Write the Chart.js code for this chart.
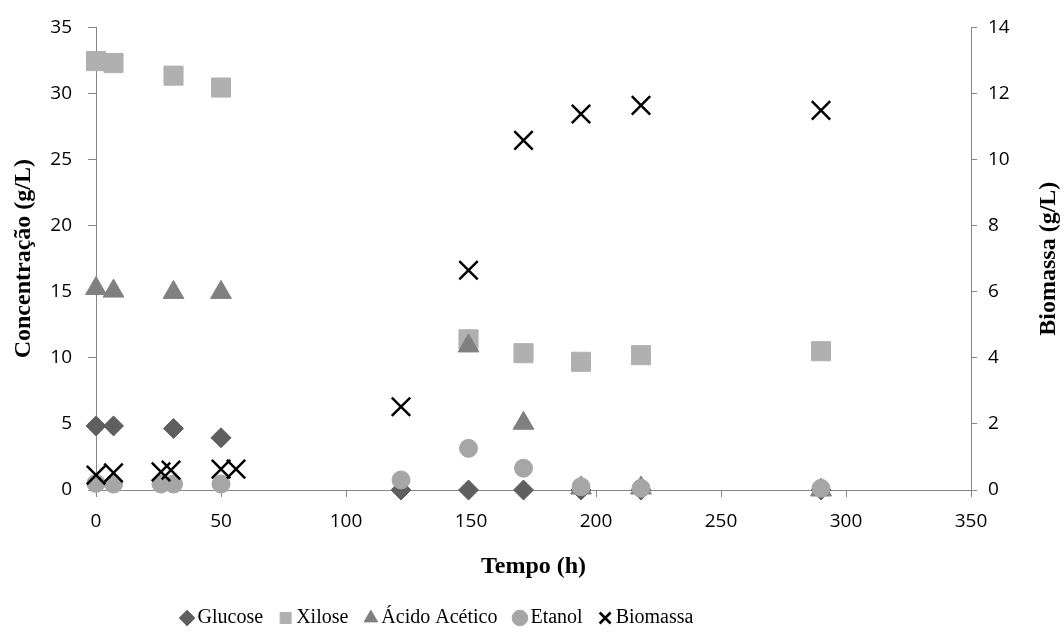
<!DOCTYPE html>
<html lang="pt">
<head>
<meta charset="utf-8">
<title>Concentração e Biomassa</title>
<script src="https://cdn.jsdelivr.net/npm/chart.js@4.4.0/dist/chart.umd.min.js"></script>
<style>
    body { margin: 0; background: #fff; }
    #wrap { width: 1064px; height: 642px; }
</style>
</head>
<body>
<div id="wrap"><canvas id="grafico" width="1064" height="642"></canvas></div>
<script>
// Dados (tempo em horas, concentrações em g/L)
const tempoGlucose = [0, 7, 31, 50, 122, 149, 171, 194, 218, 290];
const glucose = [4.85, 4.85, 4.65, 3.95, 0, 0, 0, 0, 0, 0];

const tempoXilose = [0, 7, 31, 50, 149, 171, 194, 218, 290];
const xilose = [32.45, 32.3, 31.35, 30.45, 11.4, 10.35, 9.7, 10.2, 10.5];

const tempoAcetico = [0, 7, 31, 50, 149, 171, 194, 218, 290];
const acidoAcetico = [15.25, 15.05, 14.95, 14.95, 10.9, 5.05, 0.15, 0.15, 0];

const tempoEtanol = [0, 7, 26, 31, 50, 122, 149, 171, 194, 218, 290];
const etanol = [0.5, 0.45, 0.45, 0.45, 0.45, 0.76, 3.15, 1.65, 0.25, 0.13, 0.13];

const tempoBiomassa = [0, 7, 26, 30, 50, 56, 122, 149, 171, 194, 218, 290];
const biomassa = [0.45, 0.52, 0.55, 0.6, 0.63, 0.63, 2.52, 6.65, 10.58, 11.38, 11.64, 11.49];

// Eixos
const tempoTicks = { min: 0, max: 350, step: 50 };
const concTicks = { min: 0, max: 35, step: 5 };
const bioTicks = { min: 0, max: 14, step: 2 };

function pares(xs, ys) {
    return xs.map((x, i) => ({ x: x, y: ys[i] }));
}

const corEixo = '#868686';
const fonteTick = { family: 'Open Sans', size: 19 };
const fonteTitulo = { family: 'Liberation Serif', size: 24, weight: 'bold' };

// Desloca a legenda para a esquerda, como no original
const moverLegenda = {
    id: 'moverLegenda',
    afterLayout(chart) {
        const lg = chart.legend;
        if (!lg) return;
        lg.left -= 92;
        lg.right -= 92;
    }
};

// Título do eixo direito lido de baixo para cima (o Chart.js gira ao contrário)
const tituloDireito = {
    id: 'tituloDireito',
    afterDraw(chart) {
        const ctx = chart.ctx;
        const area = chart.chartArea;
        ctx.save();
        ctx.translate(1049, (area.top + area.bottom) / 2);
        ctx.rotate(-Math.PI / 2);
        ctx.font = 'bold 24px "Liberation Serif"';
        ctx.fillStyle = '#000';
        ctx.textAlign = 'center';
        ctx.textBaseline = 'middle';
        ctx.fillText('Biomassa (g/L)', 0, 0);
        ctx.restore();
    }
};

new Chart(document.getElementById('grafico').getContext('2d'), {
    type: 'scatter',
    data: {
        datasets: [
            {
                label: 'Glucose',
                data: pares(tempoGlucose, glucose),
                pointStyle: 'rectRot',
                pointRadius: 10,
                backgroundColor: '#5f5f5f',
                borderColor: '#5f5f5f',
                borderWidth: 1,
                yAxisID: 'y',
                order: 4
            },
            {
                label: 'Xilose',
                data: pares(tempoXilose, xilose),
                pointStyle: 'rect',
                pointRadius: 13.5,
                backgroundColor: '#b0b0b0',
                borderColor: '#b0b0b0',
                borderWidth: 1,
                yAxisID: 'y',
                order: 3
            },
            {
                label: 'Ácido Acético',
                data: pares(tempoAcetico, acidoAcetico),
                pointStyle: 'triangle',
                pointRadius: 12,
                backgroundColor: '#808080',
                borderColor: '#808080',
                borderWidth: 1,
                yAxisID: 'y',
                order: 2
            },
            {
                label: 'Etanol',
                data: pares(tempoEtanol, etanol),
                pointStyle: 'circle',
                pointRadius: 9,
                backgroundColor: '#a6a6a6',
                borderColor: '#a6a6a6',
                borderWidth: 1,
                yAxisID: 'y',
                order: 1
            },
            {
                label: 'Biomassa',
                data: pares(tempoBiomassa, biomassa),
                pointStyle: 'crossRot',
                pointRadius: 13,
                backgroundColor: '#000',
                borderColor: '#000',
                borderWidth: 2.5,
                yAxisID: 'y1',
                order: 0
            }
        ]
    },
    options: {
        responsive: false,
        animation: false,
        devicePixelRatio: 1,
        showLine: false,
        clip: false,
        layout: {
            padding: { top: 27, right: 0, bottom: 4, left: 0 }
        },
        plugins: {
            tooltip: { enabled: false },
            legend: {
                position: 'bottom',
                labels: {
                    usePointStyle: true,
                    boxWidth: 1,
                    boxHeight: 11,
                    padding: 22,
                    color: '#000',
                    font: { family: 'Liberation Serif', size: 20 },
                    sort: (a, b) => a.datasetIndex - b.datasetIndex
                }
            }
        },
        scales: {
            x: {
                type: 'linear',
                min: tempoTicks.min,
                max: tempoTicks.max,
                ticks: { stepSize: tempoTicks.step, color: '#000', font: fonteTick, padding: 13 },
                grid: { drawOnChartArea: false, drawTicks: true, tickLength: 7, color: corEixo },
                border: { color: corEixo, width: 1 },
                title: {
                    display: true,
                    text: 'Tempo (h)',
                    color: '#000',
                    font: fonteTitulo,
                    padding: { top: 0, bottom: 5 }
                },
                afterFit: s => { s.height = 96; }
            },
            y: {
                position: 'left',
                min: concTicks.min,
                max: concTicks.max,
                ticks: { stepSize: concTicks.step, color: '#000', font: fonteTick, padding: 16 },
                grid: { drawOnChartArea: false, drawTicks: true, tickLength: 8, color: corEixo },
                border: { color: corEixo, width: 1 },
                title: {
                    display: true,
                    text: 'Concentração (g/L)',
                    color: '#000',
                    font: fonteTitulo,
                    padding: { top: 9, bottom: 0 }
                },
                afterFit: s => { s.width = 96; }
            },
            y1: {
                position: 'right',
                min: bioTicks.min,
                max: bioTicks.max,
                ticks: { stepSize: bioTicks.step, color: '#000', font: fonteTick, padding: 11 },
                grid: { drawOnChartArea: false, drawTicks: true, tickLength: 6, color: corEixo },
                border: { color: corEixo, width: 1 },
                afterFit: s => { s.width = 93; }
            }
        }
    },
    plugins: [moverLegenda, tituloDireito]
});
</script>
</body>
</html>
